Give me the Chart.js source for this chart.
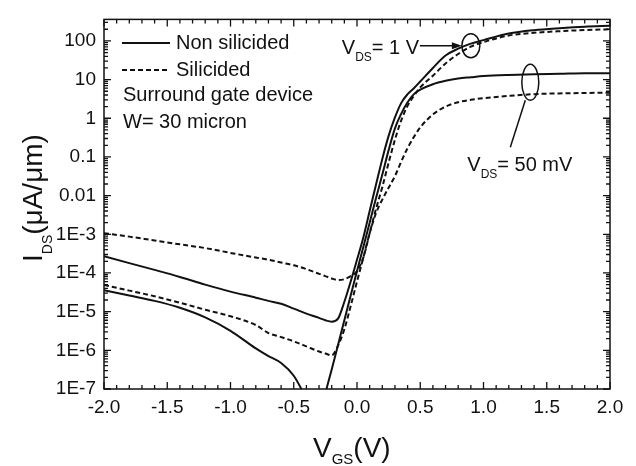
<!DOCTYPE html>
<html>
<head>
<meta charset="utf-8">
<script src="https://cdn.jsdelivr.net/npm/chart.js@4.4.1/dist/chart.umd.min.js"></script>
<style>
    html, body { margin: 0; padding: 0; background: #fff; }
</style>
</head>
<body>
<canvas id="curvas" width="636" height="466"></canvas>
<script>
// V_GS (V), common to every curve
var vgs = [-2.0, -1.8, -1.6, -1.4, -1.2, -1.0, -0.8, -0.7, -0.6, -0.5, -0.4, -0.3, -0.25, -0.2, -0.15, -0.1, -0.05,
    0, 0.05, 0.1, 0.15, 0.2, 0.25, 0.3, 0.35, 0.4, 0.45, 0.5, 0.6, 0.7, 0.8, 0.9, 1.0, 1.2, 1.4, 1.6, 1.8, 2.0];

// I_DS (uA/um)
var noSilicided1V = [2.7e-4, 1.8e-4, 1.2e-4, 7.9e-5, 5.0e-5, 3.3e-5, 2.3e-5, 1.9e-5, 1.6e-5, 1.2e-5, 8.9e-6, 6.9e-6, 6.0e-6, 5.5e-6, 6.6e-6, 1.8e-5, 6.0e-5,
    2.2e-4, 8.3e-4, 4.0e-3, 0.019, 0.089, 0.35, 1.05, 2.5, 4.2, 6.0, 8.9, 20, 42, 63, 85, 105, 155, 190, 214, 234, 245];
var silicided1V = [1.07e-3, 8.7e-4, 6.9e-4, 5.5e-4, 4.4e-4, 3.3e-4, 2.5e-4, 2.2e-4, 1.86e-4, 1.58e-4, 1.26e-4, 9.5e-5, 8.3e-5, 7.2e-5, 6.6e-5, 6.9e-5, 8.3e-5,
    1.12e-4, 2.5e-4, 1.07e-3, 4.5e-3, 0.0166, 0.071, 0.28, 0.89, 2.1, 3.8, 6.3, 12.6, 26, 46, 71, 93, 138, 162, 178, 191, 200];
var noSilicided50mV = [3.6e-5, 2.6e-5, 1.9e-5, 1.26e-5, 7.1e-6, 3.2e-6, 1.12e-6, 7.1e-7, 4.7e-7, 2.2e-7, 5.6e-8, 1.26e-8, 7.6e-8, 3.2e-7, 1.38e-6, 6.0e-6, 2.6e-5,
    1.12e-4, 4.7e-4, 2.0e-3, 8.5e-3, 0.035, 0.15, 0.55, 1.32, 2.6, 4.2, 5.5, 7.6, 9.3, 10.7, 11.5, 12.3, 13.2, 13.8, 14.1, 14.5, 14.5];
var silicided50mV = [4.9e-5, 3.5e-5, 2.5e-5, 1.7e-5, 1.12e-5, 7.6e-6, 4.5e-6, 2.8e-6, 2.2e-6, 1.7e-6, 1.26e-6, 9.3e-7, 8.3e-7, 7.4e-7, 1.32e-6, 3.5e-6, 1.4e-5,
    6.0e-5, 2.5e-4, 1.07e-3, 3.5e-3, 7.9e-3, 0.016, 0.032, 0.076, 0.17, 0.33, 0.58, 1.26, 2.0, 2.6, 3.0, 3.3, 3.8, 4.2, 4.4, 4.5, 4.6];

// y axis decades and their labels
var yTicks = [1e-7, 1e-6, 1e-5, 1e-4, 1e-3, 0.01, 0.1, 1, 10, 100];
var yTickLabels = ['1E-7', '1E-6', '1E-5', '1E-4', '1E-3', '0.01', '0.1', '1', '10', '100'];

var FUENTE = '"Liberation Sans", Arial, sans-serif';

function puntos(serie) {
    return vgs.map(function (v, i) { return { x: v, y: serie[i] }; });
}

function curva(serie, discontinua) {
    return {
        data: puntos(serie),
        borderColor: '#111',
        borderWidth: 2,
        borderDash: discontinua ? [5, 3] : [],
        pointRadius: 0,
        cubicInterpolationMode: 'monotone',
        fill: false,
        clip: 0
    };
}

// texto con subindice: base, sub, resto
function textoSub(ctx, x, y, base, sub, resto, tam, tamSub, bajada) {
    ctx.font = tam + 'px ' + FUENTE;
    ctx.fillText(base, x, y);
    x += ctx.measureText(base).width;
    ctx.font = tamSub + 'px ' + FUENTE;
    ctx.fillText(sub, x, y + bajada);
    x += ctx.measureText(sub).width;
    ctx.font = tam + 'px ' + FUENTE;
    ctx.fillText(resto, x, y);
}

// marco, marcas de los ejes, leyenda y anotaciones
var extras = {
    id: 'extras',
    afterDraw: function (chart) {
        var ctx = chart.ctx;
        var area = chart.chartArea;
        var xs = chart.scales.x;
        var ys = chart.scales.y;

        ctx.save();
        ctx.strokeStyle = '#111';
        ctx.fillStyle = '#111';
        ctx.lineWidth = 1.5;
        ctx.strokeRect(area.left, area.top, area.right - area.left, area.bottom - area.top);

        // marcas hacia dentro
        ctx.lineWidth = 1.3;
        ctx.beginPath();
        for (var i = -20; i <= 20; i++) {
            var px = xs.getPixelForValue(i / 10);
            var lx = (i % 5 == 0) ? 7 : 4;
            ctx.moveTo(px, area.bottom); ctx.lineTo(px, area.bottom - lx);
            ctx.moveTo(px, area.top); ctx.lineTo(px, area.top + lx);
        }
        for (var e = -7; e <= 2; e++) {
            for (var m = 1; m <= 9; m++) {
                var v = m * Math.pow(10, e);
                if (v > ys.max) break;
                var py = ys.getPixelForValue(v);
                var ly = (m == 1) ? 7 : 4;
                ctx.moveTo(area.left, py); ctx.lineTo(area.left + ly, py);
                ctx.moveTo(area.right, py); ctx.lineTo(area.right - ly, py);
            }
        }
        ctx.stroke();

        // leyenda
        ctx.lineWidth = 2;
        ctx.beginPath();
        ctx.moveTo(122, 43); ctx.lineTo(170, 43);
        ctx.stroke();
        ctx.setLineDash([5, 3]);
        ctx.beginPath();
        ctx.moveTo(122, 70); ctx.lineTo(170, 70);
        ctx.stroke();
        ctx.setLineDash([]);
        ctx.font = '20px ' + FUENTE;
        ctx.textAlign = 'left';
        ctx.textBaseline = 'alphabetic';
        ctx.fillText('Non silicided', 176, 49);
        ctx.fillText('Silicided', 176, 76);
        ctx.fillText('Surround gate device', 123, 101);
        ctx.fillText('W= 30 micron', 123, 128);

        // V_DS = 1 V
        var cx1 = xs.getPixelForValue(0.9);
        var cy1 = ys.getPixelForValue(75);
        ctx.lineWidth = 1.5;
        ctx.beginPath();
        ctx.ellipse(cx1, cy1, 9, 12, 0, 0, 2 * Math.PI);
        ctx.stroke();
        ctx.beginPath();
        ctx.moveTo(cx1 - 51, cy1); ctx.lineTo(cx1 - 16, cy1);
        ctx.stroke();
        ctx.beginPath();
        ctx.moveTo(cx1 - 9, cy1);
        ctx.lineTo(cx1 - 19, cy1 - 3.5);
        ctx.lineTo(cx1 - 19, cy1 + 3.5);
        ctx.closePath();
        ctx.fill();
        textoSub(ctx, cx1 - 129, cy1 + 8, 'V', 'DS', '= 1 V', 20, 12, 7);

        // V_DS = 50 mV
        var cx2 = xs.getPixelForValue(1.37);
        var cy2 = ys.getPixelForValue(8.5);
        ctx.beginPath();
        ctx.ellipse(cx2, cy2, 8.5, 18, 0, 0, 2 * Math.PI);
        ctx.stroke();
        ctx.beginPath();
        ctx.moveTo(cx2 - 20, cy2 + 65); ctx.lineTo(cx2 - 5, cy2 + 18);
        ctx.stroke();
        textoSub(ctx, cx2 - 63, cy2 + 89, 'V', 'DS', '= 50 mV', 20, 12, 7);

        // titulos de los ejes
        textoSub(ctx, 313, 457, 'V', 'GS', '(V)', 28, 15, 7);
        ctx.translate(42, 262);
        ctx.rotate(-Math.PI / 2);
        textoSub(ctx, 0, 0, 'I', 'DS', '(\u03bcA/\u03bcm)', 28, 14, 10);
        ctx.restore();
    }
};

var ctx = document.getElementById('curvas').getContext('2d');
var grafico = new Chart(ctx, {
    type: 'line',
    data: {
        datasets: [
            curva(noSilicided1V, false),
            curva(silicided1V, true),
            curva(noSilicided50mV, false),
            curva(silicided50mV, true)
        ]
    },
    options: {
        responsive: false,
        animation: false,
        devicePixelRatio: 1,
        layout: { padding: { top: 13, right: 26, left: 0, bottom: 0 } },
        plugins: {
            legend: { display: false },
            tooltip: { enabled: false }
        },
        scales: {
            x: {
                type: 'linear',
                min: -2,
                max: 2,
                grid: { display: false, drawTicks: false },
                border: { display: false },
                ticks: {
                    stepSize: 0.5,
                    padding: 7,
                    color: '#111',
                    font: { family: FUENTE, size: 19 },
                    callback: function (v) { return v.toFixed(1); }
                },
                afterFit: function (scale) { scale.height = 77; }
            },
            y: {
                type: 'logarithmic',
                min: 1e-7,
                max: 360,
                grid: { display: false, drawTicks: false },
                border: { display: false },
                ticks: {
                    autoSkip: false,
                    padding: 8,
                    color: '#111',
                    font: { family: FUENTE, size: 19 },
                    callback: function (v, i) { return yTickLabels[i]; }
                },
                afterBuildTicks: function (scale) {
                    scale.ticks = yTicks.map(function (v) { return { value: v }; });
                },
                afterFit: function (scale) { scale.width = 104; }
            }
        }
    },
    plugins: [extras]
});
</script>
</body>
</html>
